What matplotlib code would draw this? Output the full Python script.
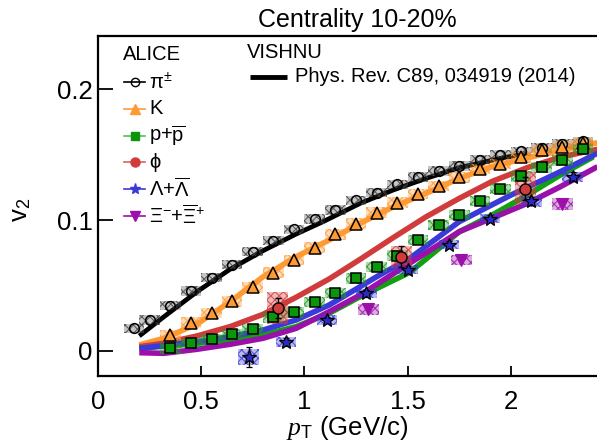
import numpy as np
import matplotlib
matplotlib.use('Agg')
import matplotlib.pyplot as plt
from matplotlib.patches import Rectangle

plt.rcParams['font.family'] = ['Liberation Sans', 'DejaVu Sans']
plt.rcParams['mathtext.fontset'] = 'custom'
plt.rcParams['mathtext.rm'] = 'Liberation Sans'
plt.rcParams['mathtext.it'] = 'Liberation Serif:italic'
plt.rcParams['mathtext.bf'] = 'Liberation Sans:bold'
plt.rcParams['hatch.linewidth'] = 0.8

# ---- ALICE data ----
pi_pt = [0.175, 0.25, 0.35, 0.45, 0.55, 0.65, 0.75, 0.85, 0.95, 1.05, 1.15, 1.25,
         1.35, 1.45, 1.55, 1.65, 1.75, 1.85, 1.95, 2.05, 2.15, 2.25, 2.35]
pi_v2 = [0.0173, 0.0237, 0.0346, 0.0458, 0.0560, 0.0660, 0.0758, 0.0843, 0.0929,
         0.1008, 0.1076, 0.1149, 0.1210, 0.1274, 0.1329, 0.1374, 0.1413, 0.1462,
         0.1500, 0.1525, 0.1550, 0.1580, 0.1600]

k_pt = [0.35, 0.45, 0.55, 0.65, 0.75, 0.85, 0.95, 1.05, 1.15, 1.25, 1.35, 1.45,
        1.55, 1.65, 1.75, 1.85, 1.95, 2.05, 2.15, 2.25, 2.35]
k_v2 = [0.0120, 0.0216, 0.0292, 0.0378, 0.0486, 0.0598, 0.0695, 0.0789, 0.0891,
        0.0972, 0.1057, 0.1133, 0.1197, 0.1258, 0.1326, 0.1391, 0.1426, 0.1479,
        0.1531, 0.1560, 0.1585]

p_pt = [0.35, 0.45, 0.55, 0.65, 0.75, 0.85, 0.95, 1.05, 1.15, 1.25, 1.35, 1.45,
        1.55, 1.65, 1.75, 1.85, 1.95, 2.05, 2.15, 2.25, 2.35]
p_v2 = [0.0019, 0.0061, 0.0092, 0.0127, 0.0165, 0.0256, 0.0295, 0.0375, 0.0443,
        0.0554, 0.0643, 0.0729, 0.0847, 0.0963, 0.1038, 0.1146, 0.1237, 0.1333,
        0.1402, 0.1455, 0.1543]

phi_pt = [0.87, 1.47, 2.07]
phi_v2 = [0.0328, 0.0720, 0.1240]
phi_stat = [0.0078, 0.0079, 0.0090]
phi_sys = [0.0120, 0.0085, 0.0125]

lam_pt = [0.73, 0.91, 1.11, 1.30, 1.50, 1.70, 1.90, 2.10, 2.30]
lam_v2 = [-0.0048, 0.0068, 0.0237, 0.0440, 0.0622, 0.0811, 0.1010, 0.1143, 0.1330]
lam_stat = [0.0076, 0.0030, 0.0025, 0.0025, 0.0025, 0.0025, 0.0025, 0.0030, 0.0035]
lam_sys = [0.0060, 0.0040, 0.0035, 0.0035, 0.0035, 0.0035, 0.0035, 0.0040, 0.0040]

xi_pt = [1.31, 1.76, 2.25]
xi_v2 = [0.0318, 0.0695, 0.1122]
xi_stat = [0.0040, 0.0030, 0.0030]
xi_sys = [0.0040, 0.0040, 0.0045]

# ---- VISHNU curves ----
vpi_pt = [0.20, 0.32, 0.48, 0.64, 0.80, 0.96, 1.09, 1.27, 1.43, 1.59, 1.75, 1.95, 2.08]
vpi_v2 = [0.0115, 0.0262, 0.0453, 0.0624, 0.0766, 0.0893, 0.0987, 0.1127, 0.1229,
          0.1318, 0.1399, 0.1471, 0.1509]

vk_pt = [0.20, 0.32, 0.48, 0.64, 0.80, 0.96, 1.12, 1.27, 1.43, 1.59, 1.75, 1.91,
         2.08, 2.24, 2.42]
vk_v2 = [0.0046, 0.0097, 0.0206, 0.0376, 0.0567, 0.0720, 0.0847, 0.0975, 0.1100,
         0.1204, 0.1318, 0.1407, 0.1475, 0.1530, 0.1590]

vphi_pt = [0.20, 0.32, 0.48, 0.64, 0.80, 0.96, 1.12, 1.27, 1.43, 1.59, 1.75, 1.91,
           2.08, 2.24, 2.42]
vphi_v2 = [0.0033, 0.0059, 0.0115, 0.0186, 0.0280, 0.0410, 0.0550, 0.0700, 0.0865,
           0.1025, 0.1165, 0.1295, 0.1400, 0.1480, 0.1540]

vlam_pt = [0.20, 0.48, 0.64, 0.80, 0.96, 1.12, 1.27, 1.35, 1.51, 1.75, 2.00, 2.24, 2.42]
vlam_v2 = [0.0020, 0.0071, 0.0109, 0.0160, 0.0237, 0.0351, 0.0491, 0.0567, 0.0707,
           0.0987, 0.1190, 0.1369, 0.1510]

vxi_pt = [0.20, 0.32, 0.48, 0.64, 0.80, 0.96, 1.12, 1.27, 1.51, 1.75, 1.90, 2.08,
          2.24, 2.42]
vxi_v2 = [-0.0013, -0.0018, 0.0013, 0.0051, 0.0097, 0.0173, 0.0300, 0.0427, 0.0670,
          0.0911, 0.1008, 0.1127, 0.1254, 0.1407]

vp_pt = [0.20, 0.48, 0.64, 0.80, 0.96, 1.12, 1.27, 1.51, 1.75, 1.91, 2.08, 2.24, 2.40]
vp_v2 = [0.0020, 0.0059, 0.0084, 0.0122, 0.0186, 0.0288, 0.0415, 0.0600, 0.0910,
         0.1038, 0.1190, 0.1344, 0.1483]

# colours
c_pi, c_k, c_p = 'black', '#ff9933', '#1c9c1c'
c_phi, c_lam, c_xi = '#d03c3c', '#3a3ad8', '#9a10a8'


def sys_boxes(ax, x, y, dy, color, dx=0.05, alpha=0.35):
    """hatched boxes for the systematic uncertainties"""
    for xi, yi, ei in zip(x, y, dy):
        ax.add_patch(Rectangle((xi - dx, yi - ei), 2 * dx, 2 * ei,
                               facecolor=matplotlib.colors.to_rgba(color, alpha),
                               edgecolor=matplotlib.colors.to_rgba(color, 0.8),
                               hatch='xxxx', lw=0, zorder=3))


fig = plt.figure(figsize=(5.97, 4.48), dpi=100)
# axes box runs past the right edge of the picture, as in the reference
ax = fig.add_axes([98 / 597, 72 / 448, 516 / 597, 340 / 448])

# model curves
lw = 4
ax.plot(vpi_pt, vpi_v2, color=c_pi, lw=3.4, zorder=2, solid_capstyle='butt')
ax.plot(vk_pt, vk_v2, color=c_k, lw=lw, zorder=2, solid_capstyle='butt')
ax.plot(vphi_pt, vphi_v2, color=c_phi, lw=lw, zorder=2, solid_capstyle='butt')
ax.plot(vp_pt, vp_v2, color='#10a010', lw=lw, zorder=2, solid_capstyle='butt')
ax.plot(vlam_pt, vlam_v2, color=c_lam, lw=lw, zorder=2, solid_capstyle='butt')
ax.plot(vxi_pt, vxi_v2, color=c_xi, lw=lw, zorder=2, solid_capstyle='butt')

# systematic boxes
sys_boxes(ax, pi_pt, pi_v2, [0.0035] * len(pi_pt), '#404040', alpha=0.3)
sys_boxes(ax, k_pt, k_v2, [0.004] * len(k_pt), c_k)
sys_boxes(ax, p_pt, p_v2, [0.004] * len(p_pt), c_p)
sys_boxes(ax, phi_pt, phi_v2, phi_sys, c_phi)
sys_boxes(ax, lam_pt, lam_v2, lam_sys, c_lam)
sys_boxes(ax, xi_pt, xi_v2, xi_sys, c_xi)

# data points
ax.plot(pi_pt, pi_v2, 'o', ms=7, mfc='none', mec='black', mew=1.1, zorder=5)
ax.plot(k_pt, k_v2, '^', ms=8.5, mfc=c_k, mec='black', mew=1.1, zorder=5)
ax.plot(p_pt, p_v2, 's', ms=7.5, mfc='#0a960a', mec='black', mew=1.1, zorder=5)
ax.errorbar(phi_pt, phi_v2, yerr=phi_stat, fmt='o', ms=8, mfc=c_phi, mec='black',
            mew=1.0, ecolor='black', elinewidth=1, capsize=2.5, zorder=5)
ax.errorbar(lam_pt, lam_v2, yerr=lam_stat, fmt='*', ms=10, mfc='#2a2ac8', mec='black',
            mew=0.9, ecolor='black', elinewidth=1, capsize=2.5, zorder=5)
ax.errorbar(xi_pt, xi_v2, yerr=xi_stat, fmt='v', ms=8.5, mfc=c_xi, mec=c_xi,
            mew=0.8, ecolor=c_xi, elinewidth=1, capsize=0, zorder=5)

ax.set_xlim(0, 2.5)
ax.set_ylim(-0.0191, 0.2405)
ax.set_xticks([0, 0.5, 1, 1.5, 2])
ax.set_xticklabels(['0', '0.5', '1', '1.5', '2'])
ax.set_yticks([0, 0.1, 0.2])
ax.set_yticklabels(['0', '0.1', '0.2'])
ax.tick_params(axis='x', direction='in', length=7.5, width=1.3, labelsize=18.5, pad=10)
ax.tick_params(axis='y', direction='in', length=11, width=1.3, labelsize=18.5, pad=4)
for s in ax.spines.values():
    s.set_linewidth(1.6)

# axis titles and title
fig.text(347 / 597, 1 - 428 / 448, r'$p_{\mathrm{T}}$ (GeV/c)', fontsize=18.5,
         ha='center', va='center')
fig.text(21 / 597, 1 - 210 / 448, r'v$_{2}$', fontsize=18.5, rotation=90,
         ha='center', va='center')
fig.text(357 / 597, 1 - 27 / 448, 'Centrality 10-20%', fontsize=18, ha='center',
         va='baseline')


# legend, placed in pixel coordinates of the axes box
def ap(px, py):
    return (px - 98) / 516, (376 - py) / 340


leg_fs = 14.5
ax.text(*ap(123, 55), 'ALICE', transform=ax.transAxes, fontsize=leg_fs, va='center')
labels = [r'π$^{\pm}$', 'K', r'p+$\overline{\mathrm{p}}$', 'ϕ',
          r'Λ+$\overline{\Lambda}$', r'Ξ$^{-}$+$\overline{\Xi}^{+}$']
styles = [dict(marker='o', color='black', mfc='none', ms=6),
          dict(marker='^', color=c_k, mfc=c_k, ms=6.5),
          dict(marker='s', color='#55c055', mfc='#0a960a', mec='#0a960a', ms=5.5),
          dict(marker='o', color='#e06060', mfc=c_phi, mec=c_phi, ms=6.5),
          dict(marker='*', color=c_lam, mfc=c_lam, ms=8),
          dict(marker='v', color=c_xi, mfc=c_xi, ms=6.5)]
for i, (lab, st) in enumerate(zip(labels, styles)):
    yy = 82 + 26.8 * i
    x0, y0 = ap(124, yy)
    x1, _ = ap(145, yy)
    ax.plot([x0, x1], [y0, y0], transform=ax.transAxes, lw=1.2, zorder=6,
            color=st['color'])
    mk = {k: v for k, v in st.items() if k != 'color'}
    ax.plot([(x0 + x1) / 2], [y0], transform=ax.transAxes, linestyle='none',
            color=st['color'], zorder=7, **mk)
    ax.text(*ap(149, yy), lab, transform=ax.transAxes, fontsize=leg_fs, va='center')

ax.text(*ap(247, 53), 'VISHNU', transform=ax.transAxes, fontsize=leg_fs, va='center')
x0, y0 = ap(250, 77.5)
x1, _ = ap(287, 77.5)
ax.plot([x0, x1], [y0, y0], transform=ax.transAxes, color='black', lw=3.5,
        solid_capstyle='butt')
ax.text(*ap(295, 77), 'Phys. Rev. C89, 034919 (2014)', transform=ax.transAxes,
        fontsize=leg_fs, va='center')

fig.savefig('out.png', dpi=100)
